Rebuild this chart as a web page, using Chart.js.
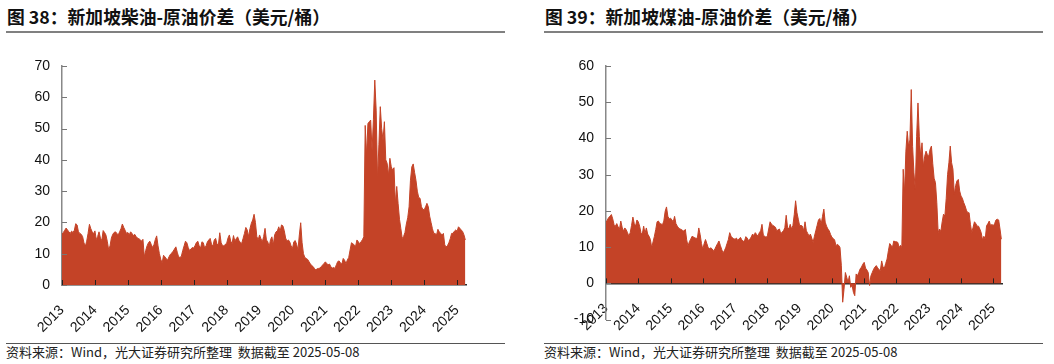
<!DOCTYPE html>
<html>
<head>
<meta charset="utf-8">
<script src="https://cdn.jsdelivr.net/npm/chart.js@4.4.0/dist/chart.umd.min.js"></script>
<style>
body { margin: 0; width: 1054px; height: 364px; background: #fff; overflow: hidden; font-family: "Noto Sans CJK SC", sans-serif; }
.title { position: absolute; top: 4px; font-weight: bold; font-size: 17.8px; line-height: 24px; color: #111; white-space: nowrap; }
.rule { position: absolute; top: 31px; height: 2px; background: #808080; }
.src { position: absolute; top: 343px; width: 499px; border-top: 1px solid #555; font-size: 13px; line-height: 16px; color: #222; white-space: nowrap; }
canvas { position: absolute; top: 40px; }
</style>
</head>
<body>
<div class="title" style="left:7px">图 38：新加坡柴油-原油价差（美元/桶）</div>
<div class="rule" style="left:6px;width:499px"></div>
<canvas id="diesel" width="527" height="300" style="left:0"></canvas>
<div class="src" style="left:6px">资料来源：Wind，光大证券研究所整理&nbsp;&nbsp;数据截至 2025-05-08</div>

<div class="title" style="left:545px">图 39：新加坡煤油-原油价差（美元/桶）</div>
<div class="rule" style="left:544px;width:499px"></div>
<canvas id="jet" width="527" height="300" style="left:527px"></canvas>
<div class="src" style="left:544px">资料来源：Wind，光大证券研究所整理&nbsp;&nbsp;数据截至 2025-05-08</div>

<script>
// 年份刻度
const yearTicks = [2013, 2014, 2015, 2016, 2017, 2018, 2019, 2020, 2021, 2022, 2023, 2024, 2025];

// 半月取样，2013 年初起
const SERIES_START = 2013;
const STEP = 1 / 24;

// 新加坡柴油-原油价差（美元/桶）
const dieselSpread = [
    16.2, 16.8, 17.5, 18.2, 17.6, 17.0, 16.5, 17.2, 16.8, 17.5, 19.6, 19.2, 17.0, 16.5, 16.2, 15.5, 13.5, 12.4, 14.0, 16.5, 19.4, 18.0, 17.0, 16.4,
    17.3, 14.5, 15.5, 17.0, 15.0, 14.2, 17.4, 16.8, 16.0, 14.0, 11.3, 12.5, 15.0, 16.2, 16.8, 17.0, 16.5, 16.0, 17.0, 18.0, 19.5, 18.4, 17.5, 16.5,
    16.8, 16.0, 17.0, 16.5, 15.8, 16.2, 15.5, 15.0, 14.8, 14.5, 14.0, 14.6, 9.0, 11.0, 12.5, 13.5, 14.0, 13.0, 12.0, 12.8, 14.5, 15.7, 12.5, 10.0,
    8.2, 7.0, 9.5, 9.0, 8.4, 8.0, 9.0, 9.8, 10.2, 10.8, 11.5, 12.2, 10.5, 9.0, 8.8, 9.2, 11.0, 12.5, 14.0, 13.5, 12.0, 11.0, 11.5, 12.0,
    11.8, 12.6, 13.6, 14.0, 12.5, 11.8, 13.8, 13.5, 11.8, 12.5, 13.8, 14.4, 14.9, 13.0, 12.5, 14.4, 14.9, 13.0, 12.8, 16.7, 13.5, 12.6, 12.5, 13.0,
    13.3, 15.0, 16.0, 14.0, 13.3, 15.8, 14.0, 14.8, 15.4, 14.2, 13.6, 13.3, 14.9, 16.5, 18.4, 17.6, 15.5, 18.0, 19.7, 20.8, 22.6, 20.0, 15.5, 14.4,
    16.0, 14.8, 13.8, 15.5, 18.1, 14.4, 13.8, 12.2, 14.5, 15.4, 12.8, 16.0, 17.0, 17.3, 18.6, 17.2, 19.2, 18.9, 17.4, 15.0, 14.0, 14.4, 13.8, 12.5,
    11.7, 13.8, 14.2, 13.0, 11.2, 16.0, 19.9, 13.5, 10.0, 8.8, 8.5, 8.2, 7.5, 6.8, 6.2, 5.9, 5.3, 4.8, 5.2, 5.3, 5.4, 5.9, 6.4, 6.9,
    7.4, 6.8, 6.5, 6.7, 5.8, 5.4, 5.6, 5.3, 6.5, 7.5, 7.7, 7.0, 6.7, 8.5, 7.9, 6.8, 8.0, 8.8, 11.2, 13.5, 13.2, 12.8, 12.4, 14.4,
    13.8, 13.2, 13.8, 14.5, 15.4, 51.0, 41.5, 51.6, 52.2, 52.7, 43.0, 53.0, 65.5, 55.9, 33.5, 45.0, 57.0, 50.0, 46.3, 52.2, 40.0, 38.9, 35.1, 40.5,
    37.8, 36.7, 37.5, 26.1, 31.5, 26.0, 21.0, 18.0, 14.9, 15.5, 16.8, 19.5, 21.5, 25.0, 33.5, 37.8, 38.7, 36.0, 33.5, 30.0, 28.0, 27.7, 25.0, 24.2,
    24.0, 25.0, 26.1, 25.0, 22.0, 20.0, 18.0, 16.5, 16.5, 16.0, 17.8, 17.0, 16.5, 16.0, 16.5, 12.8, 12.2, 12.6, 13.5, 14.8, 16.5, 16.5, 17.2, 17.6,
    17.2, 18.6, 18.1, 17.6, 17.1, 16.0, 14.4
];

// 新加坡煤油-原油价差（美元/桶）
const jetSpread = [
    16.8, 17.5, 18.2, 18.5, 19.0, 17.8, 16.2, 15.8, 16.5, 15.6, 14.9, 17.2, 15.5, 14.4, 15.3, 14.8, 14.0, 13.0, 14.0, 16.0, 18.3, 16.5, 15.8, 17.5,
    17.0, 15.8, 14.0, 13.6, 15.8, 13.8, 15.3, 13.6, 13.0, 12.1, 9.8, 11.5, 13.0, 14.9, 17.0, 17.2, 16.5, 16.4, 16.2, 17.2, 19.9, 21.1, 18.5, 17.8,
    18.0, 17.5, 17.0, 18.5, 16.5, 15.8, 15.3, 15.0, 14.9, 14.6, 14.4, 14.9, 12.0, 10.3, 11.5, 12.2, 13.0, 12.8, 12.6, 12.4, 12.6, 15.3, 13.5, 11.0,
    9.4, 11.0, 12.1, 11.0, 9.8, 9.6, 9.8, 9.5, 8.9, 9.5, 10.3, 11.0, 11.7, 10.5, 9.4, 8.4, 9.0, 9.8, 11.0, 12.1, 14.0, 13.0, 12.6, 12.3,
    12.2, 12.5, 11.8, 12.3, 12.7, 12.0, 11.6, 11.7, 12.9, 12.5, 11.8, 12.2, 12.8, 13.6, 13.2, 14.0, 13.5, 13.0, 14.0, 14.5, 16.3, 13.3, 13.0, 12.7,
    13.1, 15.0, 17.0, 16.4, 16.0, 15.8, 15.5, 14.5, 14.8, 15.0, 13.6, 14.2, 14.5, 15.4, 18.8, 15.5, 15.0, 16.3, 15.0, 16.0, 19.0, 22.8, 19.5, 17.7,
    15.9, 16.0, 15.8, 14.5, 17.0, 14.5, 13.8, 13.1, 13.6, 12.5, 11.3, 13.0, 14.5, 16.0, 17.5, 17.9, 16.3, 18.5, 20.5, 16.9, 15.8, 15.0, 14.5, 13.5,
    12.7, 12.4, 12.0, 10.4, 10.8, 10.5, 9.9, 5.0, -5.2, -1.6, 3.0, 1.7, 0.3, 2.1, -1.1, -0.5, -2.5, -3.4, 2.6, 2.1, 3.0, 4.0, 4.5, 5.3,
    5.8, 4.2, 3.7, 3.0, -0.6, 2.1, 3.0, 3.9, 4.5, 4.9, 4.3, 3.8, 3.5, 6.2, 4.5, 4.2, 5.5, 6.7, 9.0, 11.0, 10.5, 9.9, 11.7, 11.5,
    11.5, 11.3, 9.9, 10.5, 9.9, 31.5, 25.0, 36.5, 42.0, 37.8, 39.6, 53.5, 37.8, 30.5, 26.0, 40.6, 49.8, 40.6, 35.0, 38.8, 32.3, 35.1, 36.5, 35.5,
    35.1, 37.0, 37.9, 33.0, 29.0, 27.8, 22.3, 14.0, 15.0, 14.3, 17.0, 19.1, 18.6, 23.5, 30.0, 33.3, 37.9, 33.3, 31.5, 24.6, 27.0, 28.3, 28.7, 25.5,
    24.1, 23.5, 22.3, 21.4, 20.2, 19.5, 19.5, 16.3, 14.0, 15.5, 17.0, 16.5, 15.8, 15.8, 15.0, 14.0, 12.0, 13.0, 12.2, 15.9, 16.5, 17.2, 15.9, 16.3,
    15.9, 16.5, 17.5, 17.7, 17.5, 15.0, 12.2
];

const RED = '#c44327';
const TICK_FONT = { family: '"Liberation Sans", Arial, sans-serif', size: 14 };

function toPoints(values) {
    return values.map((v, i) => ({ x: SERIES_START + i * STEP, y: v }));
}

// 刻度线画在坐标轴内侧
const innerTicks = {
    id: 'innerTicks',
    afterDraw(chart) {
        const { ctx, scales: { x, y } } = chart;
        const axisY = y.getPixelForValue(0);
        ctx.save();
        ctx.lineWidth = 1;
        ctx.strokeStyle = '#777';
        y.ticks.forEach(t => {
            const py = Math.round(y.getPixelForValue(t.value)) + 0.5;
            ctx.beginPath();
            ctx.moveTo(x.left, py);
            ctx.lineTo(x.left + 5, py);
            ctx.stroke();
        });
        ctx.strokeStyle = '#222';
        x.ticks.forEach(t => {
            const px = Math.round(x.getPixelForValue(t.value)) + 0.5;
            ctx.beginPath();
            ctx.moveTo(px, axisY);
            ctx.lineTo(px, axisY - 5);
            ctx.stroke();
        });
        ctx.restore();
    }
};

function makeChart(id, values, yMin, yMax, pad, yWidth, xPos) {
    return new Chart(document.getElementById(id), {
        type: 'line',
        data: {
            datasets: [{
                data: toPoints(values),
                borderColor: RED,
                backgroundColor: RED,
                borderWidth: 1,
                pointRadius: 0,
                tension: 0,
                fill: 'origin'
            }]
        },
        options: {
            responsive: false,
            animation: false,
            events: [],
            layout: { padding: pad },
            plugins: { legend: { display: false }, tooltip: { enabled: false } },
            scales: {
                x: {
                    type: 'linear',
                    position: xPos,
                    min: 2013,
                    max: 2025.27,
                    z: 1,
                    grid: { display: false, drawTicks: false },
                    border: { display: true, color: '#2a2a2a', width: 1.5 },
                    ticks: {
                        autoSkip: false,
                        minRotation: 45,
                        maxRotation: 45,
                        padding: 17,
                        color: '#111',
                        font: TICK_FONT,
                        callback: v => String(v)
                    },
                    afterBuildTicks: s => { s.ticks = yearTicks.map(v => ({ value: v })); },
                    afterFit: s => { s.height = 55; }
                },
                y: {
                    min: yMin,
                    max: yMax,
                    z: 1,
                    grid: { display: false, drawTicks: false },
                    border: { display: true, color: '#888', width: 1.5 },
                    ticks: { stepSize: 10, padding: 12, color: '#111', font: TICK_FONT },
                    afterFit: s => { s.width = yWidth; }
                }
            }
        },
        plugins: [innerTicks]
    });
}

makeChart('diesel', dieselSpread, 0, 70, { left: 0, top: 26, right: 61, bottom: 0 }, 62, 'bottom');
makeChart('jet', jetSpread, -10, 60, { left: 0, top: 26, right: 52, bottom: 19 }, 79, { y: 0 });
</script>
</body>
</html>
